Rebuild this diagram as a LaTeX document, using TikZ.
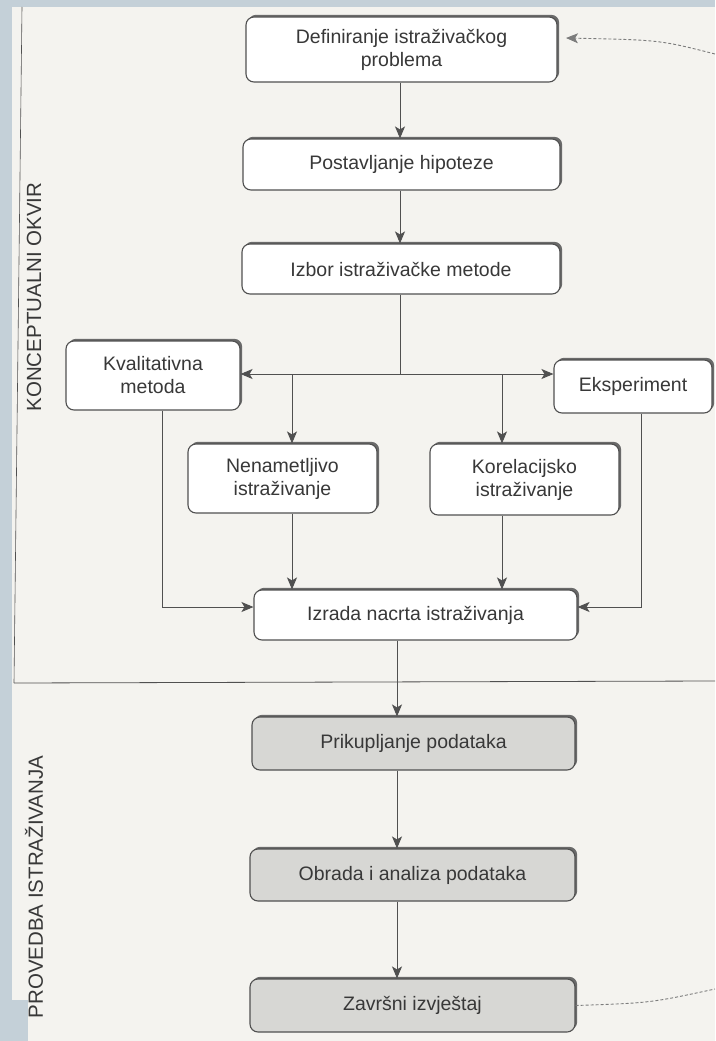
\documentclass[tikz,border=0pt]{standalone}
\usepackage{fontspec}
\setmainfont{Liberation Sans}
\usetikzlibrary{arrows.meta,shadows,calc}
\definecolor{pagebg}{HTML}{F4F3EF}
\definecolor{frame}{HTML}{C4D0D8}
\definecolor{ink}{HTML}{383838}
\definecolor{edge}{HTML}{505050}
\definecolor{greyfill}{HTML}{D7D7D4}
\begin{document}
\begin{tikzpicture}[x=1pt,y=-1pt,
  box/.style={draw=edge, line width=1.1pt, rounded corners=8pt, fill=white, text=ink,
    font=\fontsize{19.5}{23}\selectfont, align=center, inner sep=0pt,
    general shadow={shadow xshift=2.2pt, shadow yshift=2.2pt, fill=edge!85}},
  greybox/.style={box, fill=greyfill},
  arr/.style={draw=edge, line width=0.9pt, -{Stealth[length=12pt,width=10pt,inset=3pt]}},
  dasharr/.style={draw=edge!75, line width=0.9pt, dash pattern=on 3pt off 2pt},
  sidelabel/.style={rotate=90, text=ink, font=\fontsize{20.5}{24}\selectfont}]
\useasboundingbox (0,0) rectangle (715,1041);
\fill[pagebg] (0,0) rectangle (715,1041);
\fill[frame] (0,0) rectangle (715,7);
\fill[frame] (0,0) rectangle (12,1041);
\fill[frame] (0,1000) rectangle (28,1041);
\draw[edge, line width=0.6pt] (22,7) -- (14,683);
\draw[edge, line width=0.8pt] (14,683) -- (715,681);

\node[sidelabel] (lab1) at (34,297) {KONCEPTUALNI OKVIR};
\node[sidelabel] (lab2) at (34,887) {PROVEDBA ISTRAŽIVANJA};

\node[box, minimum width=311pt, minimum height=65pt] (b1) at (401.5,49.5) {Definiranje istraživačkog\\problema};
\node[box, minimum width=317pt, minimum height=51pt] (b2) at (401.5,164.5) {Postavljanje hipoteze};
\node[box, minimum width=318pt, minimum height=50pt] (b3) at (401,269) {Izbor istraživačke metode};
\node[box, minimum width=174pt, minimum height=69pt] (kval) at (153,375.5) {Kvalitativna\\metoda};
\node[box, minimum width=158pt, minimum height=53pt] (eksp) at (633,386.5) {Eksperiment};
\node[box, minimum width=189pt, minimum height=69pt] (nen) at (282.5,478.5) {Nenametljivo\\istraživanje};
\node[box, minimum width=189pt, minimum height=71pt] (kor) at (524.5,479.5) {Korelacijsko\\istraživanje};
\node[box, minimum width=323pt, minimum height=50pt] (izr) at (415.5,615) {Izrada nacrta istraživanja};
\node[greybox, minimum width=323pt, minimum height=53pt] (prik) at (413.5,743.5) {Prikupljanje podataka};
\node[greybox, minimum width=325pt, minimum height=52pt] (obr) at (412.5,875) {Obrada i analiza podataka};
\node[greybox, minimum width=325pt, minimum height=53pt] (zav) at (412.5,1005.5) {Završni izvještaj};

\coordinate (cx) at (400,0);
\coordinate (cy) at (397,0);
\coordinate (br) at (400,374);
\coordinate (n1) at (292,374);
\coordinate (n2) at (502,374);
\coordinate (kq) at (162,607);
\coordinate (ek) at (641,607);
\coordinate (t1) at (566,38);
\coordinate (r1) at (715,54);
\coordinate (r2) at (715,989);

\draw[arr] (b1.south -| cx) -- (b2.north -| cx);
\draw[arr] (b2.south -| cx) -- (b3.north -| cx);
\draw[draw=edge, line width=0.9pt] (b3.south -| cx) -- (br);
\draw[draw=edge, line width=0.9pt, {Stealth[length=12pt,width=10pt,inset=3pt]}-{Stealth[length=12pt,width=10pt,inset=3pt]}] (kval.east |- br) -- (eksp.west |- br);
\draw[arr] (n1) -- (nen.north -| n1);
\draw[arr] (n2) -- (kor.north -| n2);
\draw[arr] (nen.south -| n1) -- (izr.north -| n1);
\draw[arr] (kor.south -| n2) -- (izr.north -| n2);
\draw[arr] (kval.south -| kq) -- (kq) -- (izr.west |- kq);
\draw[arr] (eksp.south -| ek) -- (ek) -- (izr.east |- ek);
\draw[arr] (izr.south -| cy) -- (prik.north -| cy);
\draw[arr] (prik.south -| cy) -- (obr.north -| cy);
\draw[arr] (obr.south -| cy) -- (zav.north -| cy);

\draw[dasharr, -{Stealth[length=12pt,width=10pt,inset=3pt]}] (r1) .. controls (660,40) .. (t1);
\draw[dasharr] (zav.east) .. controls (650,1003) .. (r2);
\end{tikzpicture}
\end{document}
